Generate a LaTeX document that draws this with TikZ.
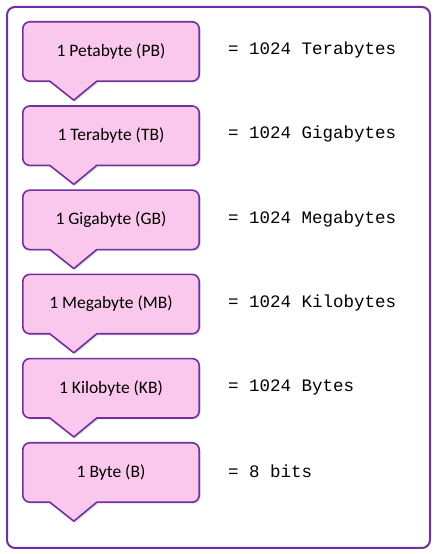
\documentclass[tikz,border=0pt]{standalone}
\usepackage{fontspec}
\setmainfont{Carlito}
\newfontfamily\eqfont{Liberation Mono}
\usetikzlibrary{shadows}

\definecolor{boxpink}{RGB}{250,200,236}
\definecolor{boxpurple}{RGB}{112,48,160}

\tikzstyle{unit}=[minimum width=176pt, minimum height=59pt, inner sep=0pt, font=\fontsize{17.5}{20}\selectfont]
\tikzstyle{eq}=[anchor=west, inner sep=0pt, font=\eqfont\fontsize{17.5}{20}\selectfont]
\tikzstyle{callout}=[draw=boxpurple, fill=boxpink, line width=1.6pt, line join=round,
  drop shadow={shadow xshift=1.5pt, shadow yshift=-1.5pt, opacity=0.25}]

\begin{document}
\begin{tikzpicture}[x=1pt, y=1pt]
    \useasboundingbox (0,0) rectangle (436,554);
    \draw[boxpurple, line width=2pt, rounded corners=8pt] (7,6) rectangle (430,547);

    % the units
    \node[unit] (pb) at (111, 502.5) {};
    \node[unit] (tb) at (111, 418.3) {};
    \node[unit] (gb) at (111, 334.1) {};
    \node[unit] (mb) at (111, 249.9) {};
    \node[unit] (kb) at (111, 165.7) {};
    \node[unit] (b)  at (111,  81.5) {};

    \foreach \n in {pb,tb,gb,mb,kb,b}
      \draw[callout] ([xshift=51pt, yshift=-19pt]\n.south west)
        -- ([xshift=27pt]\n.south west) -- ([xshift=15pt]\n.south west)
        [rounded corners=7pt] -- (\n.south west) -- (\n.north west)
        -- (\n.north east) -- (\n.south east) -- ([xshift=-50pt]\n.south east)
        [sharp corners] -- ([xshift=74pt]\n.south west) -- cycle;

    \node[unit] at (pb) {1 Petabyte (PB)};
    \node[unit] at (tb) {1 Terabyte (TB)};
    \node[unit] at (gb) {1 Gigabyte (GB)};
    \node[unit] at (mb) {1 Megabyte (MB)};
    \node[unit] at (kb) {1 Kilobyte (KB)};
    \node[unit] at (b)  {1 Byte (B)};

    % what they equal
    \node[eq] (pbeq) at (228, 504) {= 1024 Terabytes};
    \node[eq] (tbeq) at (228, 420) {= 1024 Gigabytes};
    \node[eq] (gbeq) at (228, 335.5) {= 1024 Megabytes};
    \node[eq] (mbeq) at (228, 251) {= 1024 Kilobytes};
    \node[eq] (kbeq) at (228, 167) {= 1024 Bytes};
    \node[eq] (beq)  at (228, 83) {= 8 bits};
\end{tikzpicture}
\end{document}
